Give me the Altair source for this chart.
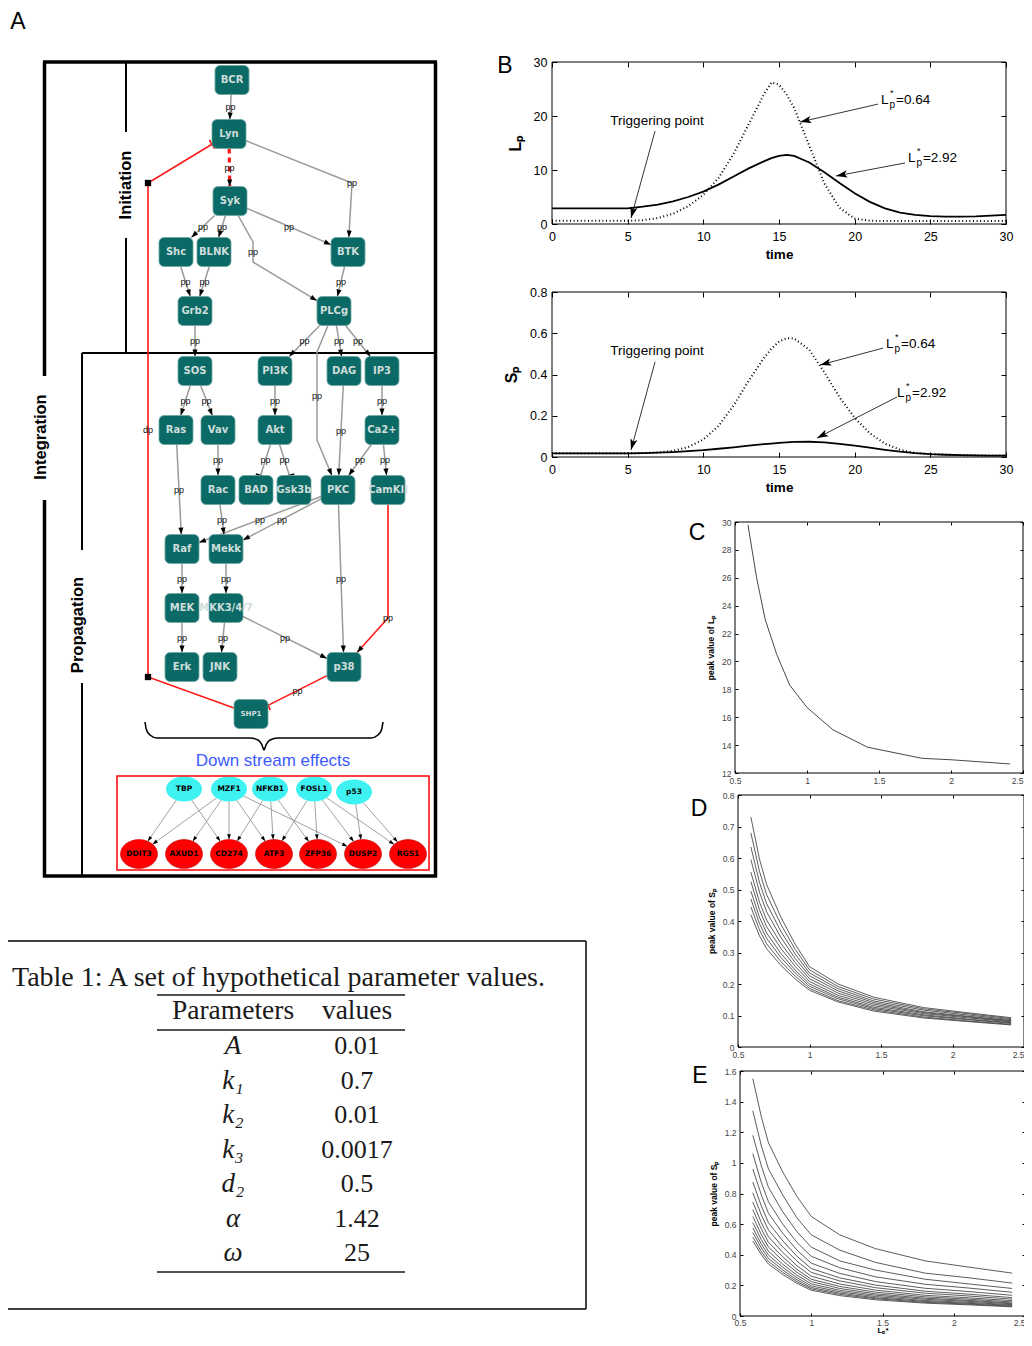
import math
import altair as alt
import pandas as pd

# ---------------------------------------------------------------- canvas
W, H = 1016, 1326
OX, OY = 8, 8
FONT = "Liberation Sans"
NFONT = "DejaVu Sans"
SERIF = "Liberation Serif"


def sx(v):
    return v - OX


def sy(v):
    return v - OY


PX = alt.Scale(domain=[OX, OX + W], range=[0, W], nice=False, zero=False)
PY = alt.Scale(domain=[OY, OY + H], range=[0, H], nice=False, zero=False)

# ================================================================ DATA
# ---- Panel A: signalling network (node centres, page pixels)
node_names = ["BCR", "Lyn", "Syk", "Shc", "BLNK", "BTK", "Grb2", "PLCg", "SOS", "PI3K", "DAG", "IP3",
              "Ras", "Vav", "Akt", "Ca2+", "Rac", "BAD", "Gsk3b", "PKC", "CamKII", "Raf", "Mekk",
              "MEK", "MKK3/4/7", "Erk", "JNK", "p38", "SHP1"]
node_x = [232, 229, 230, 176, 214, 348, 195, 334, 195, 275, 344, 382, 176, 218, 275, 382, 218, 256, 294,
          338, 388, 182, 226, 182, 226, 182, 220, 344, 251]
node_y = [80, 134, 201, 252, 252, 252, 311, 311, 371, 371, 371, 371, 430, 430, 430, 430, 490, 490, 490,
          490, 490, 549, 549, 608, 608, 667, 667, 667, 714]
node_fs = [10] * 28 + [7]

edge_src = ["BCR", "Lyn", "Lyn", "Syk", "Syk", "Syk", "Syk", "Shc", "BLNK", "BTK", "Grb2", "PLCg", "PLCg",
            "PLCg", "PLCg", "SOS", "SOS", "PI3K", "DAG", "IP3", "Ca2+", "Ca2+", "Akt", "Akt", "Vav", "Ras",
            "Rac", "PKC", "PKC", "Raf", "Mekk", "MEK", "MKK3/4/7", "MKK3/4/7", "PKC", "CamKII", "p38", "SHP1"]
edge_tgt = ["Lyn", "Syk", "BTK", "Shc", "BLNK", "BTK", "PLCg", "Grb2", "Grb2", "PLCg", "SOS", "PI3K", "PKC",
            "DAG", "IP3", "Ras", "Vav", "Akt", "PKC", "Ca2+", "PKC", "CamKII", "BAD", "Gsk3b", "Rac", "Raf",
            "Mekk", "Raf", "Mekk", "MEK", "MKK3/4/7", "Erk", "JNK", "p38", "p38", "p38", "SHP1", "Lyn"]
# g = activation, gi = inhibition, rd = red dashed activation, r = red activation, ri = red inhibition
edge_kind = ["g", "rd", "g", "g", "g", "g", "g", "g", "g", "g", "g", "g", "g", "g", "g", "g", "g", "g", "g",
             "g", "g", "g", "gi", "gi", "g", "g", "g", "g", "g", "g", "g", "g", "g", "g", "g", "r", "ri", "ri"]
edge_via = [[], [], [(352, 183)], [], [], [], [(253, 242), (253, 262)], [], [], [], [], [],
            [(317, 352), (317, 440)], [], [], [], [], [], [], [], [], [], [], [], [], [], [], [], [], [],
            [], [], [], [], [], [(388, 618)], [], [(148, 677), (148, 183)]]
edge_label = ["pp"] * 37 + ["dp"]
junction_x = [148, 148]
junction_y = [677, 183]

# ---- downstream effects
tf_names = ["TBP", "MZF1", "NFKB1", "FOSL1", "p53"]
tf_x = [184, 229, 270, 314, 354]
tf_y = [789, 789, 789, 789, 792]
gene_names = ["DDIT3", "AXUD1", "CD274", "ATF3", "ZFP36", "DUSP2", "RGS1"]
gene_x = [139, 184, 229, 274, 318, 363, 408]
gene_y = [854, 854, 854, 854, 854, 854, 854]
reg_src = ["TBP", "TBP", "MZF1", "MZF1", "MZF1", "MZF1", "MZF1", "NFKB1", "NFKB1", "NFKB1",
           "FOSL1", "FOSL1", "FOSL1", "FOSL1", "p53", "p53"]
reg_tgt = ["DDIT3", "CD274", "DDIT3", "AXUD1", "CD274", "ATF3", "DUSP2", "CD274", "ATF3", "ZFP36",
           "ATF3", "ZFP36", "DUSP2", "RGS1", "DUSP2", "RGS1"]

# ---- Panel B: time courses
t_b = [0, 1, 2, 3, 4, 5, 6, 7, 8, 9, 10, 11, 12, 13, 14, 14.5, 15, 15.5, 16, 17, 18, 19, 20, 21, 22, 23,
       24, 25, 26, 27, 28, 29, 30]
Lp_292 = [2.9, 2.9, 2.9, 2.9, 2.9, 2.9, 3.2, 3.6, 4.2, 5.0, 6.0, 7.3, 8.8, 10.3, 11.6, 12.2, 12.6, 12.8,
          12.6, 11.4, 9.6, 7.6, 5.7, 4.1, 2.9, 2.1, 1.7, 1.45, 1.35, 1.35, 1.4, 1.55, 1.7]
Lp_064 = [0.6, 0.6, 0.6, 0.6, 0.6, 0.6, 0.7, 1.1, 1.9, 3.3, 5.4, 8.5, 13.0, 18.5, 24.0, 26.2, 25.8, 24.0,
          21.5, 14.5, 7.5, 3.0, 1.0, 0.6, 0.55, 0.55, 0.55, 0.55, 0.55, 0.55, 0.55, 0.55, 0.55]
Sp_292 = [0.018, 0.018, 0.018, 0.018, 0.018, 0.018, 0.019, 0.021, 0.024, 0.028, 0.033, 0.040, 0.047, 0.055,
          0.062, 0.065, 0.068, 0.071, 0.073, 0.074, 0.071, 0.064, 0.055, 0.045, 0.035, 0.026, 0.019, 0.014,
          0.011, 0.009, 0.008, 0.007, 0.007]
Sp_064 = [0.018, 0.018, 0.018, 0.018, 0.018, 0.018, 0.019, 0.022, 0.030, 0.048, 0.085, 0.15, 0.25, 0.37,
          0.48, 0.525, 0.56, 0.576, 0.575, 0.52, 0.41, 0.29, 0.19, 0.115, 0.065, 0.035, 0.02, 0.014, 0.011,
          0.009, 0.008, 0.007, 0.007]

# ---- Panels C, D, E: peak values against L*_p
Lstar_c = [0.59, 0.65, 0.71, 0.79, 0.88, 1.0, 1.18, 1.42, 1.8, 2.0, 2.41]
peak_Lp = [29.8, 26.0, 23.0, 20.5, 18.3, 16.7, 15.1, 13.85, 13.05, 12.95, 12.65]

Lstar = [0.59, 0.65, 0.7, 0.8, 0.9, 1.0, 1.2, 1.45, 1.8, 2.1, 2.41]
peak_Sp_D = [
    [0.73, 0.597, 0.516, 0.412, 0.326, 0.255, 0.2, 0.158, 0.125, 0.109, 0.093],
    [0.68, 0.558, 0.484, 0.389, 0.31, 0.245, 0.192, 0.152, 0.121, 0.106, 0.09],
    [0.635, 0.523, 0.455, 0.367, 0.295, 0.235, 0.185, 0.146, 0.117, 0.102, 0.087],
    [0.595, 0.492, 0.429, 0.348, 0.281, 0.226, 0.178, 0.141, 0.112, 0.098, 0.084],
    [0.555, 0.46, 0.403, 0.329, 0.268, 0.217, 0.171, 0.136, 0.109, 0.096, 0.082],
    [0.525, 0.436, 0.382, 0.313, 0.256, 0.208, 0.164, 0.131, 0.106, 0.093, 0.08],
    [0.495, 0.412, 0.362, 0.297, 0.244, 0.2, 0.158, 0.126, 0.102, 0.089, 0.077],
    [0.47, 0.392, 0.345, 0.284, 0.235, 0.193, 0.153, 0.122, 0.099, 0.087, 0.075],
    [0.445, 0.372, 0.328, 0.271, 0.225, 0.186, 0.147, 0.118, 0.095, 0.083, 0.072],
    [0.42, 0.353, 0.312, 0.259, 0.216, 0.18, 0.143, 0.114, 0.092, 0.081, 0.07],
]
peak_Sp_E = [
    [1.55, 1.30, 1.13, 0.94, 0.78, 0.65, 0.53, 0.44, 0.36, 0.32, 0.28],
    [1.34, 1.11, 0.96, 0.79, 0.64, 0.53, 0.43, 0.35, 0.28, 0.25, 0.215],
    [1.18, 0.98, 0.84, 0.68, 0.55, 0.45, 0.36, 0.30, 0.24, 0.21, 0.18],
    [1.06, 0.87, 0.745, 0.60, 0.48, 0.39, 0.315, 0.256, 0.207, 0.183, 0.155],
    [0.96, 0.79, 0.67, 0.54, 0.43, 0.345, 0.278, 0.225, 0.181, 0.16, 0.135],
    [0.875, 0.717, 0.609, 0.491, 0.389, 0.31, 0.249, 0.202, 0.162, 0.143, 0.12],
    [0.805, 0.659, 0.561, 0.451, 0.358, 0.285, 0.229, 0.185, 0.149, 0.131, 0.11],
    [0.745, 0.609, 0.517, 0.415, 0.328, 0.26, 0.209, 0.169, 0.135, 0.119, 0.10],
    [0.695, 0.568, 0.481, 0.386, 0.304, 0.24, 0.193, 0.156, 0.125, 0.11, 0.092],
    [0.65, 0.531, 0.45, 0.361, 0.285, 0.225, 0.18, 0.145, 0.116, 0.102, 0.085],
    [0.61, 0.498, 0.422, 0.338, 0.266, 0.21, 0.168, 0.136, 0.109, 0.096, 0.08],
    [0.575, 0.469, 0.397, 0.318, 0.25, 0.197, 0.158, 0.127, 0.101, 0.089, 0.074],
    [0.545, 0.444, 0.376, 0.301, 0.236, 0.186, 0.149, 0.119, 0.095, 0.083, 0.069],
    [0.515, 0.42, 0.356, 0.285, 0.224, 0.177, 0.141, 0.113, 0.089, 0.078, 0.064],
    [0.49, 0.40, 0.339, 0.271, 0.213, 0.168, 0.133, 0.106, 0.084, 0.073, 0.06],
]

# ---- Table 1
table_title = "Table 1: A set of hypothetical parameter values."
param_names = ["A", "k\u2081", "k\u2082", "k\u2083", "d\u2082", "\u03b1", "\u03c9"]
param_values = ["0.01", "0.7", "0.01", "0.0017", "0.5", "1.42", "25"]

# ================================================================ helpers


def box_pt(c, p, hw, hh):
    dx, dy = p[0] - c[0], p[1] - c[1]
    cand = []
    if dx:
        cand.append(hw / abs(dx))
    if dy:
        cand.append(hh / abs(dy))
    t = min(cand)
    return (c[0] + dx * t, c[1] + dy * t)


def ell_pt(c, p, rx, ry):
    dx, dy = p[0] - c[0], p[1] - c[1]
    t = 1.0 / math.sqrt((dx / rx) ** 2 + (dy / ry) ** 2)
    return (c[0] + dx * t, c[1] + dy * t)


def ang(dx, dy):
    return math.degrees(math.atan2(dx, -dy)) % 360


ARROW = "M0,0L-0.36,1L0.36,1Z"
ARROW_OPEN = "M0,0L-0.42,1.3L0,1L0.42,1.3Z"
ELL_C = "M-1,0A1,0.69,0,1,1,1,0A1,0.69,0,1,1,-1,0Z"
ELL_R = "M-1,0A1,0.78,0,1,1,1,0A1,0.78,0,1,1,-1,0Z"


def P(df):
    return alt.Chart(pd.DataFrame(df))


def enc_xy(xf="x", yf="y"):
    return dict(x=alt.X(f"{xf}:Q", scale=PX, axis=None), y=alt.Y(f"{yf}:Q", scale=PY, axis=None))


# ================================================================ PANEL A
HW, HH = 17, 14.5
pos = {n: (x, y) for n, x, y in zip(node_names, node_x, node_y)}

line_rows, head_rows, bar_rows, lab_rows = [], [], [], []
for i, (s, t, k, via, lab) in enumerate(zip(edge_src, edge_tgt, edge_kind, edge_via, edge_label)):
    mids = [tuple(v) for v in via]
    a = box_pt(pos[s], mids[0] if mids else pos[t], HW, HH)
    b = box_pt(pos[t], mids[-1] if mids else pos[s], HW, HH)
    pts = [a] + mids + [b]
    for j, (x, y) in enumerate(pts):
        line_rows.append(dict(eid=i, k=j, x=x, y=y, kind=k))
    prev = pts[-2]
    an = ang(b[0] - prev[0], b[1] - prev[1])
    if k in ("g", "r", "rd"):
        head_rows.append(dict(x=b[0], y=b[1], ang=an))
    else:
        bar_rows.append(dict(x=b[0], y=b[1], ang=an, col="black" if k == "gi" else "#ff0000"))
    if mids:
        lx = sum(m[0] for m in mids) / len(mids)
        ly = sum(m[1] for m in mids) / len(mids)
    else:
        lx, ly = (a[0] + b[0]) / 2, (a[1] + b[1]) / 2
    lab_rows.append(dict(x=lx, y=ly, t=lab))

lines_df = pd.DataFrame(line_rows)

gray_lines = P(lines_df[lines_df.kind.isin(["g", "gi"])]).mark_line(color="#9a9a9a", strokeWidth=1.5).encode(
    **enc_xy(), detail="eid:N", order="k:Q")
red_lines = P(lines_df[lines_df.kind.isin(["r", "ri"])]).mark_line(color="#ff1a1a", strokeWidth=1.6).encode(
    **enc_xy(), detail="eid:N", order="k:Q")
red_dash = P(lines_df[lines_df.kind == "rd"]).mark_line(color="#ff1a1a", strokeWidth=3.2,
                                                        strokeDash=[5, 4]).encode(
    **enc_xy(), detail="eid:N", order="k:Q")
heads = P(head_rows).mark_point(shape=ARROW, filled=True, color="black", size=196, opacity=1).encode(
    **enc_xy(), angle=alt.Angle("ang:Q", scale=None))
bars = P(bar_rows).mark_point(shape="M-1,0L1,0", filled=False, strokeWidth=1.5, size=100, opacity=1).encode(
    **enc_xy(), angle=alt.Angle("ang:Q", scale=None), stroke=alt.Stroke("col:N", scale=None))
junctions = P(dict(x=junction_x, y=junction_y)).mark_square(color="black", size=40, opacity=1).encode(**enc_xy())

node_df = pd.DataFrame(dict(name=node_names, x=node_x, y=node_y, fs=node_fs))
node_df["x0"] = node_df.x - HW
node_df["x1"] = node_df.x + HW
node_df["y0"] = node_df.y - HH
node_df["y1"] = node_df.y + HH
node_rects = P(node_df).mark_rect(cornerRadius=5, fill="#0b6a65", stroke="#6fa7a3", strokeWidth=0.8).encode(
    x=alt.X("x0:Q", scale=PX, axis=None), x2="x1:Q", y=alt.Y("y0:Q", scale=PY, axis=None), y2="y1:Q")
node_text = P(node_df[node_df.fs == 10]).mark_text(font=NFONT, fontWeight="bold", fontSize=10,
                                                    color="#cfdedc").encode(**enc_xy(), text="name:N")
node_text_small = P(node_df[node_df.fs == 7]).mark_text(font=NFONT, fontWeight="bold", fontSize=7,
                                                         color="#cfdedc").encode(**enc_xy(), text="name:N")
edge_labels = P(lab_rows).mark_text(font=FONT, fontSize=9, color="#111").encode(**enc_xy(), text="t:N")

# downstream regulation network
tpos = {n: (x, y) for n, x, y in zip(tf_names, tf_x, tf_y)}
gpos = {n: (x, y) for n, x, y in zip(gene_names, gene_x, gene_y)}
rl, rh = [], []
for i, (s, t) in enumerate(zip(reg_src, reg_tgt)):
    a = ell_pt(tpos[s], gpos[t], 18, 12.4)
    b = ell_pt(gpos[t], tpos[s], 18.5, 14.4)
    rl.append(dict(x=a[0], y=a[1], x2=b[0], y2=b[1]))
    rh.append(dict(x=b[0], y=b[1], ang=ang(b[0] - a[0], b[1] - a[1])))
reg_lines = P(rl).mark_rule(color="#8a8a8a", strokeWidth=0.8).encode(
    **enc_xy(), x2="x2:Q", y2="y2:Q")
reg_heads = P(rh).mark_point(shape=ARROW, filled=True, color="black", size=110, opacity=1).encode(
    **enc_xy(), angle=alt.Angle("ang:Q", scale=None))
tf_nodes = P(dict(x=tf_x, y=tf_y)).mark_point(shape=ELL_C, filled=True, color="#3ff2f2", size=1296,
                                               opacity=1).encode(**enc_xy())
gene_nodes = P(dict(x=gene_x, y=gene_y)).mark_point(shape=ELL_R, filled=True, color="#ff0000", size=1369,
                                                     opacity=1, stroke="#c00000", strokeWidth=0.6).encode(**enc_xy())
tf_text = P(dict(x=tf_x, y=tf_y, t=tf_names)).mark_text(font=NFONT, fontWeight="bold", fontSize=7.5,
                                                         color="black").encode(**enc_xy(), text="t:N")
gene_text = P(dict(x=gene_x, y=gene_y, t=gene_names)).mark_text(font=NFONT, fontWeight="bold", fontSize=7.5,
                                                                 color="black").encode(**enc_xy(), text="t:N")
red_box = P(dict(x=[117], x2=[429], y=[776], y2=[870])).mark_rect(fillOpacity=0, stroke="#ff0000",
                                                                    strokeWidth=1.5).encode(
    **enc_xy(), x2="x2:Q", y2="y2:Q")

brace_x = [145, 146.5, 150, 157, 250, 258, 262, 264, 266, 270, 278, 371, 378, 381.5, 383]
brace_y = [722, 730, 735, 738, 738, 740, 745, 750, 745, 740, 738, 738, 735, 730, 722]
brace = P(dict(x=brace_x, y=brace_y, o=list(range(len(brace_x))))).mark_line(
    color="black", strokeWidth=1.6, interpolate="monotone").encode(**enc_xy(), order="o:Q")
dse = P(dict(x=[273], y=[761], t=["Down stream effects"])).mark_text(
    font=FONT, fontSize=17, color="#3b5bff").encode(**enc_xy(), text="t:N")

# frame of panel A and of the table
seg_x1 = [43, 435.5, 43, 44.5, 44.5, 126, 126, 82, 82, 82, 8, 586, 8]
seg_y1 = [62, 62, 876, 62, 500, 63, 238, 353, 353, 683, 941, 941, 1309]
seg_x2 = [437, 435.5, 437, 44.5, 44.5, 126, 126, 437, 82, 82, 586, 586, 586]
seg_y2 = [62, 877, 876, 376, 877, 132, 353, 353, 550, 877, 941, 1309, 1309]
seg_w = [3.5, 3.5, 3.5, 3.5, 3.5, 2, 2, 2, 2, 2, 1.5, 1.5, 1.5]
frame = P(dict(x=seg_x1, y=seg_y1, x2=seg_x2, y2=seg_y2, w=seg_w)).mark_rule(color="black").encode(
    **enc_xy(), x2="x2:Q", y2="y2:Q", strokeWidth=alt.StrokeWidth("w:Q", scale=None))
rot_labels = P(dict(x=[126, 41, 78], y=[185, 437, 625], t=["Initiation", "Integration", "Propagation"])).mark_text(
    font=FONT, fontSize=16.5, fontWeight="bold", angle=270, color="black").encode(**enc_xy(), text="t:N")
panel_letters = P(dict(x=[18, 505, 697, 699, 700], y=[22, 66, 533, 809, 1076], t=["A", "B", "C", "D", "E"])).mark_text(
    font=FONT, fontSize=23, color="black").encode(**enc_xy(), text="t:N")

# table text
tt = P(dict(x=[12], y=[978], t=[table_title])).mark_text(font=SERIF, fontSize=28, align="left",
                                                          color="#1a1a1a").encode(**enc_xy(), text="t:N")
hdr = P(dict(x=[233, 357], y=[1011, 1011], t=["Parameters", "values"])).mark_text(
    font=SERIF, fontSize=27.5, color="#1a1a1a").encode(**enc_xy(), text="t:N")
row_y = [1046 + 34.5 * i for i in range(len(param_names))]
pcol = P(dict(x=[233] * len(param_names), y=row_y, t=param_names)).mark_text(
    font=SERIF, fontSize=27, fontStyle="italic", color="#1a1a1a").encode(**enc_xy(), text="t:N")
vcol = P(dict(x=[357] * len(param_values), y=row_y, t=param_values)).mark_text(
    font=SERIF, fontSize=26, color="#1a1a1a").encode(**enc_xy(), text="t:N")
trules = P(dict(x=[157, 157, 157], x2=[405, 405, 405], y=[995, 1030, 1272], y2=[995, 1030, 1272])).mark_rule(
    color="#1a1a1a", strokeWidth=1.3).encode(**enc_xy(), x2="x2:Q", y2="y2:Q")

panel_A = alt.layer(frame, rot_labels, panel_letters, gray_lines, red_lines, red_dash, heads, bars, junctions,
                    node_rects, node_text, node_text_small, edge_labels, reg_lines, reg_heads, tf_nodes,
                    gene_nodes, tf_text, gene_text, red_box, brace, dse, tt, hdr, pcol, vcol, trules)


# ================================================================ plot panels
def panel(x0, x1, y0, y1, xdom, ydom, xticks, yticks, T, fs, lcolor, lpx, lpy,
          xtitle, ytitle, tfs, tpx, tpy, tfs_y=None, last_right=False):
    xs = alt.Scale(domain=xdom, range=[sx(x0), sx(x1)], nice=False, zero=False)
    ys = alt.Scale(domain=ydom, range=[sy(y1), sy(y0)], nice=False, zero=False)
    common = dict(domain=False, grid=False, tickSize=T, tickColor="black", tickWidth=1,
                  labelFont=FONT, labelFontSize=fs, labelColor=lcolor, labelFlush=False,
                  labelOverlap=False, labelBound=False, format="~f",
                  titleFont=FONT, titleFontWeight="bold", titleColor="black")
    xkw = dict(common)
    if last_right:
        xkw["labelAlign"] = {"condition": {"test": f"datum.value >= {xdom[1]}", "value": "right"},
                             "value": "center"}
    ax_b = alt.Axis(orient="bottom", offset=(sy(y1) - T) - H, values=xticks, labelPadding=lpx,
                    title=xtitle, titlePadding=tpx, titleFontSize=tfs, **xkw)
    ax_l = alt.Axis(orient="left", offset=-(sx(x0) + T), values=yticks, labelPadding=lpy,
                    title=ytitle, titlePadding=tpy, titleFontSize=tfs_y or tfs, **common)
    ax_t = alt.Axis(orient="top", offset=-(sy(y0) + T), values=xticks, labels=False, title=None,
                    domain=False, grid=False, tickSize=T, tickColor="black", tickWidth=1)
    ax_r = alt.Axis(orient="right", offset=(sx(x1) - T) - W, values=yticks, labels=False, title=None,
                    domain=False, grid=False, tickSize=T, tickColor="black", tickWidth=1)
    bd = pd.DataFrame(dict(xa=[xdom[0]], xb=[xdom[1]], ya=[ydom[0]], yb=[ydom[1]]))
    box = alt.Chart(bd).mark_rect(fillOpacity=0, stroke="black", strokeWidth=1).encode(
        x=alt.X("xa:Q", scale=xs, axis=ax_b), x2="xb:Q",
        y=alt.Y("ya:Q", scale=ys, axis=ax_l), y2="yb:Q")
    tr = alt.Chart(bd).mark_point(opacity=0).encode(
        x=alt.X("xa:Q", scale=xs, axis=ax_t), y=alt.Y("ya:Q", scale=ys, axis=ax_r))
    kx = (x1 - x0) / (xdom[1] - xdom[0])
    ky = (y1 - y0) / (ydom[1] - ydom[0])
    return xs, ys, [box, tr], kx, ky


def E(xs, ys, xf="x", yf="y"):
    return dict(x=alt.X(f"{xf}:Q", scale=xs, axis=None), y=alt.Y(f"{yf}:Q", scale=ys, axis=None))


def b_panel(y0, y1, ydom, yticks, ytitle, solid, dotted, arrows, trig_xy, lab_xy):
    xs, ys, base, kx, ky = panel(552, 1006, y0, y1, [0, 30], ydom, [0, 5, 10, 15, 20, 25, 30], yticks,
                                 5, 12.5, "black", 6, 5, "time", ytitle, 13.5, 5, 10, tfs_y=16)
    df = pd.DataFrame(dict(t=t_b, s=solid, d=dotted))
    l_solid = alt.Chart(df).mark_line(color="black", strokeWidth=1.8).encode(**E(xs, ys, "t", "s"))
    l_dot = alt.Chart(df).mark_line(color="black", strokeWidth=2, strokeDash=[1, 2.6]).encode(**E(xs, ys, "t", "d"))
    ar = pd.DataFrame(arrows, columns=["x", "y", "x2", "y2"])
    ar["ang"] = [ang((r.x2 - r.x) * kx, -(r.y2 - r.y) * ky) for r in ar.itertuples()]
    a_lines = alt.Chart(ar).mark_rule(color="black", strokeWidth=0.8).encode(**E(xs, ys), x2="x2:Q", y2="y2:Q")
    a_heads = alt.Chart(ar).mark_point(shape=ARROW_OPEN, filled=True, color="black", size=300, opacity=1).encode(
        **E(xs, ys, "x2", "y2"), angle=alt.Angle("ang:Q", scale=None))
    trig = alt.Chart(pd.DataFrame(dict(x=[trig_xy[0]], y=[trig_xy[1]], t=["Triggering point"]))).mark_text(
        font=FONT, fontSize=13.5, color="black").encode(**E(xs, ys), text="t:N")
    ld = pd.DataFrame(dict(x=[p[0] for p in lab_xy], y=[p[1] for p in lab_xy], v=["=0.64", "=2.92"]))
    lL = alt.Chart(ld).mark_text(font=FONT, fontSize=13.5, align="left", text="L").encode(**E(xs, ys))
    lS = alt.Chart(ld).mark_text(font=FONT, fontSize=9, align="left", dx=9, dy=-7, text="*").encode(**E(xs, ys))
    lP = alt.Chart(ld).mark_text(font=FONT, fontSize=10, align="left", dx=8.5, dy=5, text="p").encode(**E(xs, ys))
    lV = alt.Chart(ld).mark_text(font=FONT, fontSize=13.5, align="left", dx=15).encode(**E(xs, ys), text="v:N")
    return alt.layer(*base, l_solid, l_dot, a_lines, a_heads, trig, lL, lS, lP, lV).resolve_axis(
        x="independent", y="independent")


b1 = b_panel(62, 224, [0, 30], [0, 10, 20, 30], "L\u209a", Lp_292, Lp_064,
             [[6.81, 17.22, 5.22, 1.11], [21.54, 22.2, 16.39, 18.89], [23.33, 11.3, 18.77, 8.89]],
             (6.94, 19.07), [(21.74, 22.96), (23.52, 12.2)])
b2 = b_panel(292, 457, [0, 0.8], [0, 0.2, 0.4, 0.6, 0.8], "S\u209a", Sp_292, Sp_064,
             [[6.81, 0.461, 5.22, 0.034], [21.87, 0.528, 17.71, 0.446], [22.8, 0.291, 17.51, 0.092]],
             (6.94, 0.514), [(22.07, 0.548), (22.8, 0.31)])

# C
xs, ys, base, _, _ = panel(735, 1023, 522, 773, [0.5, 2.5], [12, 30], [0.5, 1, 1.5, 2, 2.5],
                           list(range(12, 31, 2)), 3, 8.5, "#444", 3, 4, None, "peak value of L\u209a", 8.5, 6, 6,
                           last_right=True)
c_line = alt.Chart(pd.DataFrame(dict(x=Lstar_c, y=peak_Lp))).mark_line(color="#333", strokeWidth=0.9).encode(
    **E(xs, ys))
panel_C = alt.layer(*base, c_line).resolve_axis(x="independent", y="independent")

# D
xs, ys, base, _, _ = panel(738, 1024, 795, 1047, [0.5, 2.5], [0, 0.8], [0.5, 1, 1.5, 2, 2.5],
                           [0, 0.1, 0.2, 0.3, 0.4, 0.5, 0.6, 0.7, 0.8], 3, 8.5, "#444", 3, 4, None,
                           "peak value of S\u209a", 8.5, 6, 6, last_right=True)
d_rows = [dict(cid=i, x=x, y=v) for i, cur in enumerate(peak_Sp_D) for x, v in zip(Lstar, cur)]
d_lines = alt.Chart(pd.DataFrame(d_rows)).mark_line(color="#333", strokeWidth=0.8).encode(
    **E(xs, ys), detail="cid:N")
panel_D = alt.layer(*base, d_lines).resolve_axis(x="independent", y="independent")

# E
xs, ys, base, _, _ = panel(740, 1025, 1071, 1316, [0.5, 2.5], [0, 1.6], [0.5, 1, 1.5, 2, 2.5],
                           [0, 0.2, 0.4, 0.6, 0.8, 1, 1.2, 1.4, 1.6], 3, 8.5, "#444", 2, 4, "L\u209a*",
                           "peak value of S\u209a", 8, 0, 6, tfs_y=8.5, last_right=True)
e_rows = [dict(cid=i, x=x, y=v) for i, cur in enumerate(peak_Sp_E) for x, v in zip(Lstar, cur)]
e_lines = alt.Chart(pd.DataFrame(e_rows)).mark_line(color="#333", strokeWidth=0.8).encode(
    **E(xs, ys), detail="cid:N")
panel_E = alt.layer(*base, e_lines).resolve_axis(x="independent", y="independent")

chart = alt.layer(panel_A, b1, b2, panel_C, panel_D, panel_E).resolve_scale(
    x="independent", y="independent").properties(
    width=W, height=H, autosize=alt.AutoSizeParams(type="none"), padding=0,
    background="white").configure_view(stroke=None)

chart.save("out.html", embed_options={"renderer": "svg", "actions": False})
